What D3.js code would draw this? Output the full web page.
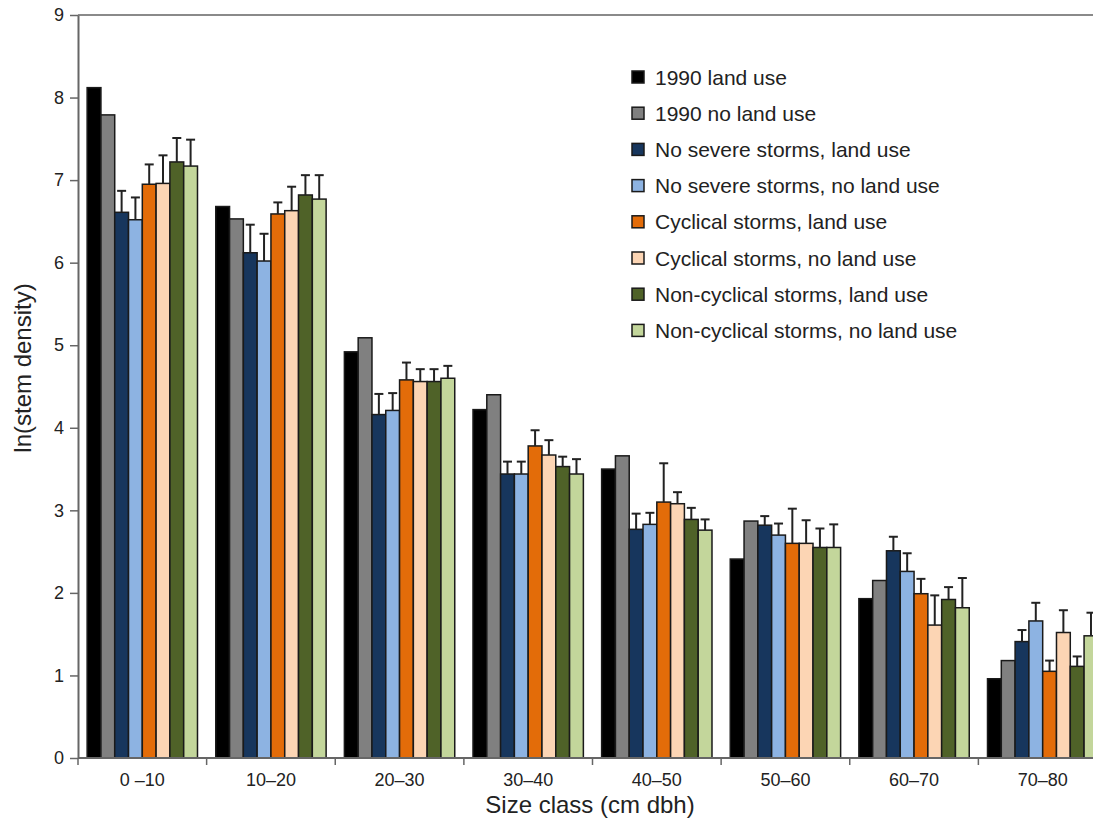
<!DOCTYPE html>
<html>
<head>
<meta charset="utf-8">
<script src="https://cdn.jsdelivr.net/npm/d3@7"></script>
<style>
	body { margin: 0; background: #fff; }
	text { font-family: 'Liberation Sans', Arial, Helvetica, sans-serif; fill: #222; }
</style>
</head>
<body>
<div id="chart"></div>
<script>
var categories = ['0 \u201310', '10\u201320', '20\u201330', '30\u201340', '40\u201350', '50\u201360', '60\u201370', '70\u201380'];

var seriesNames = [
	'1990 land use',
	'1990 no land use',
	'No severe storms, land use',
	'No severe storms, no land use',
	'Cyclical storms, land use',
	'Cyclical storms, no land use',
	'Non-cyclical storms, land use',
	'Non-cyclical storms, no land use'
];

var seriesColours = ['#000000', '#808080', '#17365d', '#8db3e2', '#e36c09', '#fcd5b4', '#4f6228', '#c3d69b'];

// ln(stem density) per series, one value per size class
var land1990       = [8.12, 6.68, 4.92, 4.22, 3.50, 2.41, 1.93, 0.96];
var noLand1990     = [7.79, 6.53, 5.09, 4.40, 3.66, 2.87, 2.15, 1.18];
var noSevereLand   = [6.61, 6.12, 4.16, 3.44, 2.77, 2.82, 2.51, 1.41];
var noSevereNoLand = [6.52, 6.02, 4.21, 3.44, 2.83, 2.70, 2.26, 1.66];
var cycLand        = [6.95, 6.59, 4.58, 3.78, 3.10, 2.60, 1.99, 1.05];
var cycNoLand      = [6.96, 6.63, 4.56, 3.67, 3.08, 2.60, 1.61, 1.52];
var nonCycLand     = [7.22, 6.82, 4.56, 3.53, 2.89, 2.55, 1.92, 1.11];
var nonCycNoLand   = [7.17, 6.77, 4.60, 3.44, 2.76, 2.55, 1.82, 1.48];

// upper error bar lengths (none for the 1990 series)
var errNoSevereLand   = [0.26, 0.34, 0.25, 0.15, 0.19, 0.11, 0.17, 0.14];
var errNoSevereNoLand = [0.27, 0.33, 0.21, 0.15, 0.14, 0.14, 0.22, 0.22];
var errCycLand        = [0.24, 0.14, 0.21, 0.19, 0.47, 0.42, 0.18, 0.13];
var errCycNoLand      = [0.34, 0.29, 0.15, 0.18, 0.14, 0.28, 0.36, 0.27];
var errNonCycLand     = [0.29, 0.24, 0.15, 0.12, 0.14, 0.23, 0.15, 0.12];
var errNonCycNoLand   = [0.32, 0.29, 0.15, 0.18, 0.13, 0.28, 0.36, 0.28];

var yTicks = [0, 1, 2, 3, 4, 5, 6, 7, 8, 9];

var seriesValues = [land1990, noLand1990, noSevereLand, noSevereNoLand, cycLand, cycNoLand, nonCycLand, nonCycNoLand];
var seriesErrors = [null, null, errNoSevereLand, errNoSevereNoLand, errCycLand, errCycNoLand, errNonCycLand, errNonCycNoLand];

var width = 1093, height = 820;
var plotLeft = 78, plotRight = 1107, plotTop = 15, plotBottom = 758;

var svg = d3.select('#chart').append('svg')
	.attr('width', width)
	.attr('height', height);

var x0 = d3.scaleBand()
	.domain(categories)
	.range([plotLeft, plotRight])
	.paddingInner(0.142)
	.paddingOuter(0.071);

var x1 = d3.scaleBand()
	.domain(d3.range(seriesNames.length))
	.range([0, x0.bandwidth()]);

var y = d3.scaleLinear()
	.domain([0, 9])
	.range([plotBottom, plotTop]);

// Flatten to one record per bar
var bars = [];
categories.forEach(function(c, ci) {
	seriesValues.forEach(function(vals, si) {
		bars.push({
			cat: c,
			series: si,
			value: vals[ci],
			err: seriesErrors[si] ? seriesErrors[si][ci] : null
		});
	});
});

function barMid(d) { return x0(d.cat) + x1(d.series) + x1.bandwidth() / 2; }

var plot = svg.append('g');

plot.selectAll('rect.bar')
	.data(bars)
	.enter().append('rect')
	.attr('class', 'bar')
	.attr('x', function(d) { return x0(d.cat) + x1(d.series); })
	.attr('y', function(d) { return y(d.value); })
	.attr('width', x1.bandwidth())
	.attr('height', function(d) { return y(0) - y(d.value); })
	.attr('fill', function(d) { return seriesColours[d.series]; })
	.attr('stroke', '#1a1a1a')
	.attr('stroke-width', 1.5);

// Error bars, upper only
var errs = plot.selectAll('g.err')
	.data(bars.filter(function(d) { return d.err !== null; }))
	.enter().append('g')
	.attr('class', 'err')
	.attr('stroke', '#222')
	.attr('stroke-width', 2);

errs.append('line')
	.attr('x1', barMid)
	.attr('x2', barMid)
	.attr('y1', function(d) { return y(d.value); })
	.attr('y2', function(d) { return y(d.value + d.err); });

errs.append('line')
	.attr('x1', function(d) { return barMid(d) - 4.5; })
	.attr('x2', function(d) { return barMid(d) + 4.5; })
	.attr('y1', function(d) { return y(d.value + d.err); })
	.attr('y2', function(d) { return y(d.value + d.err); });

// Plot border (top) and axes
svg.append('line')
	.attr('x1', plotLeft).attr('x2', plotRight)
	.attr('y1', plotTop).attr('y2', plotTop)
	.attr('stroke', '#8a8a8a').attr('stroke-width', 2);

var yAxis = svg.append('g')
	.attr('transform', 'translate(' + plotLeft + ',0)')
	.call(d3.axisLeft(y).tickValues(yTicks).tickSize(8).tickPadding(6).tickSizeOuter(0).tickFormat(d3.format('d')));
yAxis.select('.domain').attr('stroke', '#666').attr('stroke-width', 2);
yAxis.selectAll('.tick line').attr('stroke', '#666').attr('stroke-width', 1.5);
yAxis.selectAll('.tick text')
	.style('font-family', "'Liberation Sans', Arial, sans-serif")
	.style('font-size', '18px')
	.attr('fill', '#222');

var step = x0.step();
var boundaries = d3.range(categories.length + 1).map(function(i) { return plotLeft + i * step; });

var xAxis = svg.append('g');
xAxis.append('line')
	.attr('x1', plotLeft).attr('x2', plotRight)
	.attr('y1', plotBottom).attr('y2', plotBottom)
	.attr('stroke', '#666').attr('stroke-width', 2);
xAxis.selectAll('line.tick')
	.data(boundaries)
	.enter().append('line')
	.attr('class', 'tick')
	.attr('x1', function(d) { return d; })
	.attr('x2', function(d) { return d; })
	.attr('y1', plotBottom)
	.attr('y2', plotBottom + 7)
	.attr('stroke', '#666')
	.attr('stroke-width', 1.5);
xAxis.selectAll('text')
	.data(categories)
	.enter().append('text')
	.attr('x', function(d) { return x0(d) + x0.bandwidth() / 2; })
	.attr('y', 786)
	.attr('text-anchor', 'middle')
	.style('font-size', '18px')
	.text(function(d) { return d; });

// Axis titles
svg.append('text')
	.attr('x', 590)
	.attr('y', 813)
	.attr('text-anchor', 'middle')
	.style('font-size', '24px')
	.text('Size class (cm dbh)');

svg.append('text')
	.attr('transform', 'translate(31,368) rotate(-90)')
	.attr('text-anchor', 'middle')
	.style('font-size', '24px')
	.text('ln(stem density)');

// Legend
var legend = svg.append('g')
	.attr('transform', 'translate(632,77)');

var item = legend.selectAll('g')
	.data(seriesNames)
	.enter().append('g')
	.attr('transform', function(d, i) { return 'translate(0,' + (i * 36.2) + ')'; });

item.append('rect')
	.attr('x', 0)
	.attr('y', -6)
	.attr('width', 12)
	.attr('height', 12)
	.attr('fill', function(d, i) { return seriesColours[i]; })
	.attr('stroke', '#1a1a1a')
	.attr('stroke-width', 1.5);

item.append('text')
	.attr('x', 23)
	.attr('y', 7.5)
	.style('font-size', '21px')
	.text(function(d) { return d; });
</script>
</body>
</html>
